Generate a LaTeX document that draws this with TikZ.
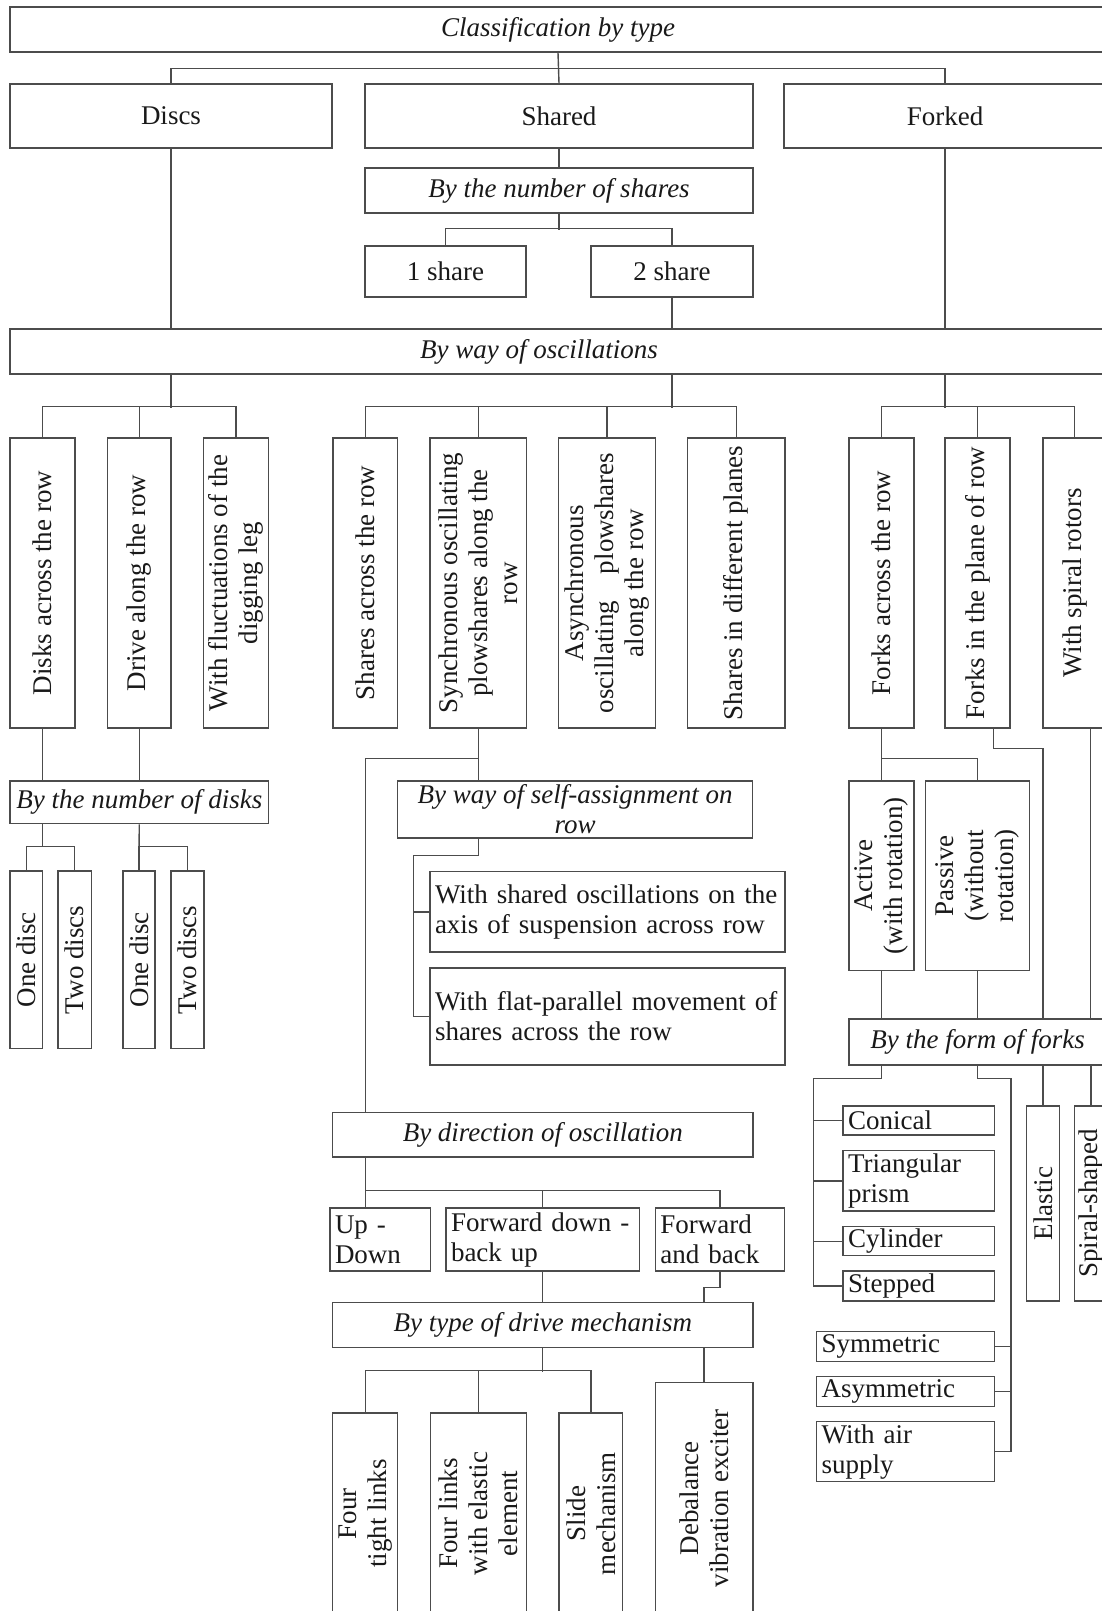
\documentclass[tikz,border=0pt]{standalone}
\usepackage{fontspec}
\setmainfont{Liberation Serif}

\tikzset{
  box/.style={draw=black!70, line width=0.7pt, inner sep=0pt, text=black!90, align=center,
    font=\fontsize{13.5}{15}\selectfont},
  hd/.style={box, font=\fontsize{13.5}{15}\selectfont\itshape},
  vb/.style={box, rotate=90},
  lb/.style={box, align=left, inner xsep=2.5pt},
}

\begin{document}
\begin{tikzpicture}[x=0.5pt,y=-0.5pt,color=black!70,line width=0.7pt]
\useasboundingbox (0,0) rectangle (1102,1611);
\clip (0,0) rectangle (1102,1611);

% headings
\foreach \n/\xa/\ya/\xb/\yb/\txt in {
    top/10/7/1106/52/{Classification by type},
    nshare/365/168/753/213/{By the number of shares},
    osc/10/329/1106/374/{By way of oscillations\hspace*{19pt}},
    ndisk/10/781/268.6/823.7/{By the number of disks},
    selfa/397.5/781/752.5/838/{By way of self-assignment on\\row},
    dir/332.7/1112.7/753/1157/{By direction of oscillation},
    drive/332.7/1302.7/753/1347.3/{By type of drive mechanism},
    form/849/1019/1106/1065/{By the form of forks}}{
  \pgfmathsetmacro\cx{(\xa+\xb)/2}\pgfmathsetmacro\cy{(\ya+\yb)/2}
  \pgfmathsetmacro\w{(\xb-\xa)/2}\pgfmathsetmacro\h{(\yb-\ya)/2}
  \node[hd, minimum width=\w pt, minimum height=\h pt] (\n) at (\cx,\cy) {\txt};
}

% plain boxes
\foreach \n/\xa/\ya/\xb/\yb/\txt in {
    discs/10/84/332/148/Discs,
    shared/365/84/753/148/Shared,
    forked/784/84/1106/148/Forked,
    s1/365/246/526/297/{1 share},
    s2/591/246/753/297/{2 share}}{
  \pgfmathsetmacro\cx{(\xa+\xb)/2}\pgfmathsetmacro\cy{(\ya+\yb)/2}
  \pgfmathsetmacro\w{(\xb-\xa)/2}\pgfmathsetmacro\h{(\yb-\ya)/2}
  \node[box, minimum width=\w pt, minimum height=\h pt] (\n) at (\cx,\cy) {\txt};
}

% upright boxes, text turned
\foreach \n/\xa/\ya/\xb/\yb/\txt in {
    dacr/10/438/75/728/{Disks across the row},
    dalo/107.5/438/171/728/{Drive along the row},
    dfluc/203.6/438/268.6/728/{With fluctuations of the\\digging leg},
    sacr/333/438/397.5/728/{Shares across the row},
    ssync/430/438/526.4/728/{Synchronous oscillating\\plowshares along the\\row},
    sasync/558.6/438/655.4/728/{Asynchronous\\oscillating\quad plowshares\\along the row},
    sdiff/687.7/438/784.8/728/{Shares in different planes},
    facr/849/438/914/728/{Forks across the row},
    fplane/945/438/1010/728/{Forks in the plane of row},
    fspir/1043/438/1106/728/{With spiral rotors},
    d1/10/871/42.5/1048.7/{One disc},
    d2/58/871/91.4/1048.7/{Two discs},
    d3/123/871/155/1048.7/{One disc},
    d4/171/871/204/1048.7/{Two discs},
    act/849/781/914/970.7/{Active\\(with rotation)},
    pas/925.6/781/1029.6/970.7/{Passive\\(without\\rotation)},
    elas/1026.7/1106/1059.3/1301/Elastic,
    spsh/1074.3/1106/1108/1301/{Spiral-shaped},
    m1/332.7/1413/397.7/1614/{Four\\tight links},
    m2/430.3/1413/526.7/1614/{Four links\\with elastic\\element},
    m3/559/1413/622.7/1614/{Slide\\mechanism},
    deb/655.3/1382.7/753/1614/{Debalance\\vibration exciter}}{
  \pgfmathsetmacro\cx{(\xa+\xb)/2}\pgfmathsetmacro\cy{(\ya+\yb)/2}
  \pgfmathsetmacro\w{(\xb-\xa)/2}\pgfmathsetmacro\h{(\yb-\ya)/2}
  \node[vb, minimum width=\h pt, minimum height=\w pt] (\n) at (\cx,\cy) {\txt};
}

% boxes with text set left
\foreach \n/\xa/\ya/\xb/\yb/\txt in {
    sa1/430/871.7/784.8/952/{With shared oscillations on the\\axis of suspension across row},
    sa2/430/968/784.8/1065/{With flat-parallel movement of\\shares across the row},
    updn/330/1208/430.3/1271/{Up -\\Down},
    fdn/446/1208/639.3/1271/{Forward down -\\back up},
    fb/655.3/1208/784.3/1271/{Forward\\and back},
    con/843/1106/994.3/1135/Conical,
    tri/843/1150.7/994.3/1211/{Triangular\\prism},
    cyl/843/1226.7/994.3/1255.7/Cylinder,
    stp/843/1271/994.3/1301/Stepped,
    sym/816.7/1331.7/994.3/1361.7/Symmetric,
    asym/816.7/1376.7/994.3/1406.7/Asymmetric,
    air/816.7/1421.7/994.3/1481.7/{With air\\supply}}{
  \pgfmathsetmacro\cx{(\xa+\xb)/2}\pgfmathsetmacro\cy{(\ya+\yb)/2}
  \pgfmathsetmacro\w{(\xb-\xa)/2}\pgfmathsetmacro\h{(\yb-\ya)/2}
  \pgfmathsetmacro\tw{(\xb-\xa-10)/2}
  \node[lb, text width=\tw pt, minimum width=\w pt, minimum height=\h pt] (\n) at (\cx,\cy) {\txt};
}

% first levels
\draw (top.south) -- (shared.north);
\draw (discs.north) -- ++(0,-15) -| (forked.north);
\draw (shared.south) -- (nshare.north);
\draw (nshare.south) -- ++(0,16);
\draw (s1.north) -- ++(0,-17) -| (s2.north);
\draw (s2.south) -- (s2.south |- osc.north);
\draw (discs.south) -- (discs.south |- osc.north);
\draw (forked.south) -- (forked.south |- osc.north);

% by way of oscillations
\draw (osc.south -| discs.south) -- ++(0,33);
\draw (dacr.east) -- ++(0,-31) -| (dfluc.east);
\draw (dalo.east) -- ++(0,-31);
\draw (osc.south -| s2.south) -- ++(0,33);
\draw (sacr.east) -- ++(0,-31) -| (sdiff.east);
\foreach \n in {ssync,sasync} \draw (\n.east) -- ++(0,-31);
\draw (osc.south -| forked.south) -- ++(0,33);
\draw (facr.east) -- ++(0,-31) -| (fspir.east);
\draw (fplane.east) -- ++(0,-31);

% discs
\draw (dacr.west) -- (dacr.west |- ndisk.north);
\draw (dalo.west) -- (dalo.west |- ndisk.north);
\draw (dacr.west |- ndisk.south) -- ++(0,23);
\draw (d1.east) -- ++(0,-24) -| (d2.east);
\draw (dalo.west |- ndisk.south) -- (d3.east);
\draw (d3.east) -- ++(0,-24) -| (d4.east);

% shares
\draw (ssync.west) -- (ssync.west |- selfa.north);
\draw (ssync.west) ++(0,30) -| (dir.north -| sacr.east);
\draw (ssync.west |- selfa.south) -- ++(0,17) -| ([xshift=-8pt]sa2.west) -- (sa2.west);
\draw (sa1.west) -- ++(-16,0);
\draw (dir.south -| sacr.east) -- (updn.north -| sacr.east);
\draw (updn.north -| sacr.east) ++(0,-17) -| (fb.north);
\draw (fdn.north) -- ++(0,-17);
\draw (fdn.south) -- (fdn.south |- drive.north);
\draw (fb.south) -- ++(0,16) -| (deb.east |- drive.north);
\draw (drive.south -| fdn.south) -- ++(0,24);
\draw (m1.east) -- ++(0,-42) -| (m3.east);
\draw (m2.east) -- ++(0,-42);
\draw (deb.east |- drive.south) -- (deb.east);

% forks
\draw (facr.west) -- (act.east);
\draw (act.east) ++(0,-22) -| (pas.east);
\draw ([xshift=8pt]fplane.west) -- ++(0,20) -| (elas.east |- form.north);
\draw ([xshift=8pt]fspir.west) -- ([xshift=8pt]fspir.west |- form.north);
\draw (act.west) -- (act.west |- form.north);
\draw (pas.west) -- (pas.west |- form.north);
\draw (act.west |- form.south) -- ++(0,13) -| ([xshift=-14.5pt]stp.west) -- (stp.west);
\foreach \n in {con,tri,cyl} \draw (\n.west) -- ++(-29,0);
\draw (pas.west |- form.south) -- ++(0,13) -| ([xshift=8pt]air.east) -- (air.east);
\foreach \n in {sym,asym} \draw (\n.east) -- ++(16,0);
\draw (elas.east |- form.south) -- (elas.east);
\draw (spsh.east |- form.south) -- (spsh.east);
\end{tikzpicture}
\end{document}
